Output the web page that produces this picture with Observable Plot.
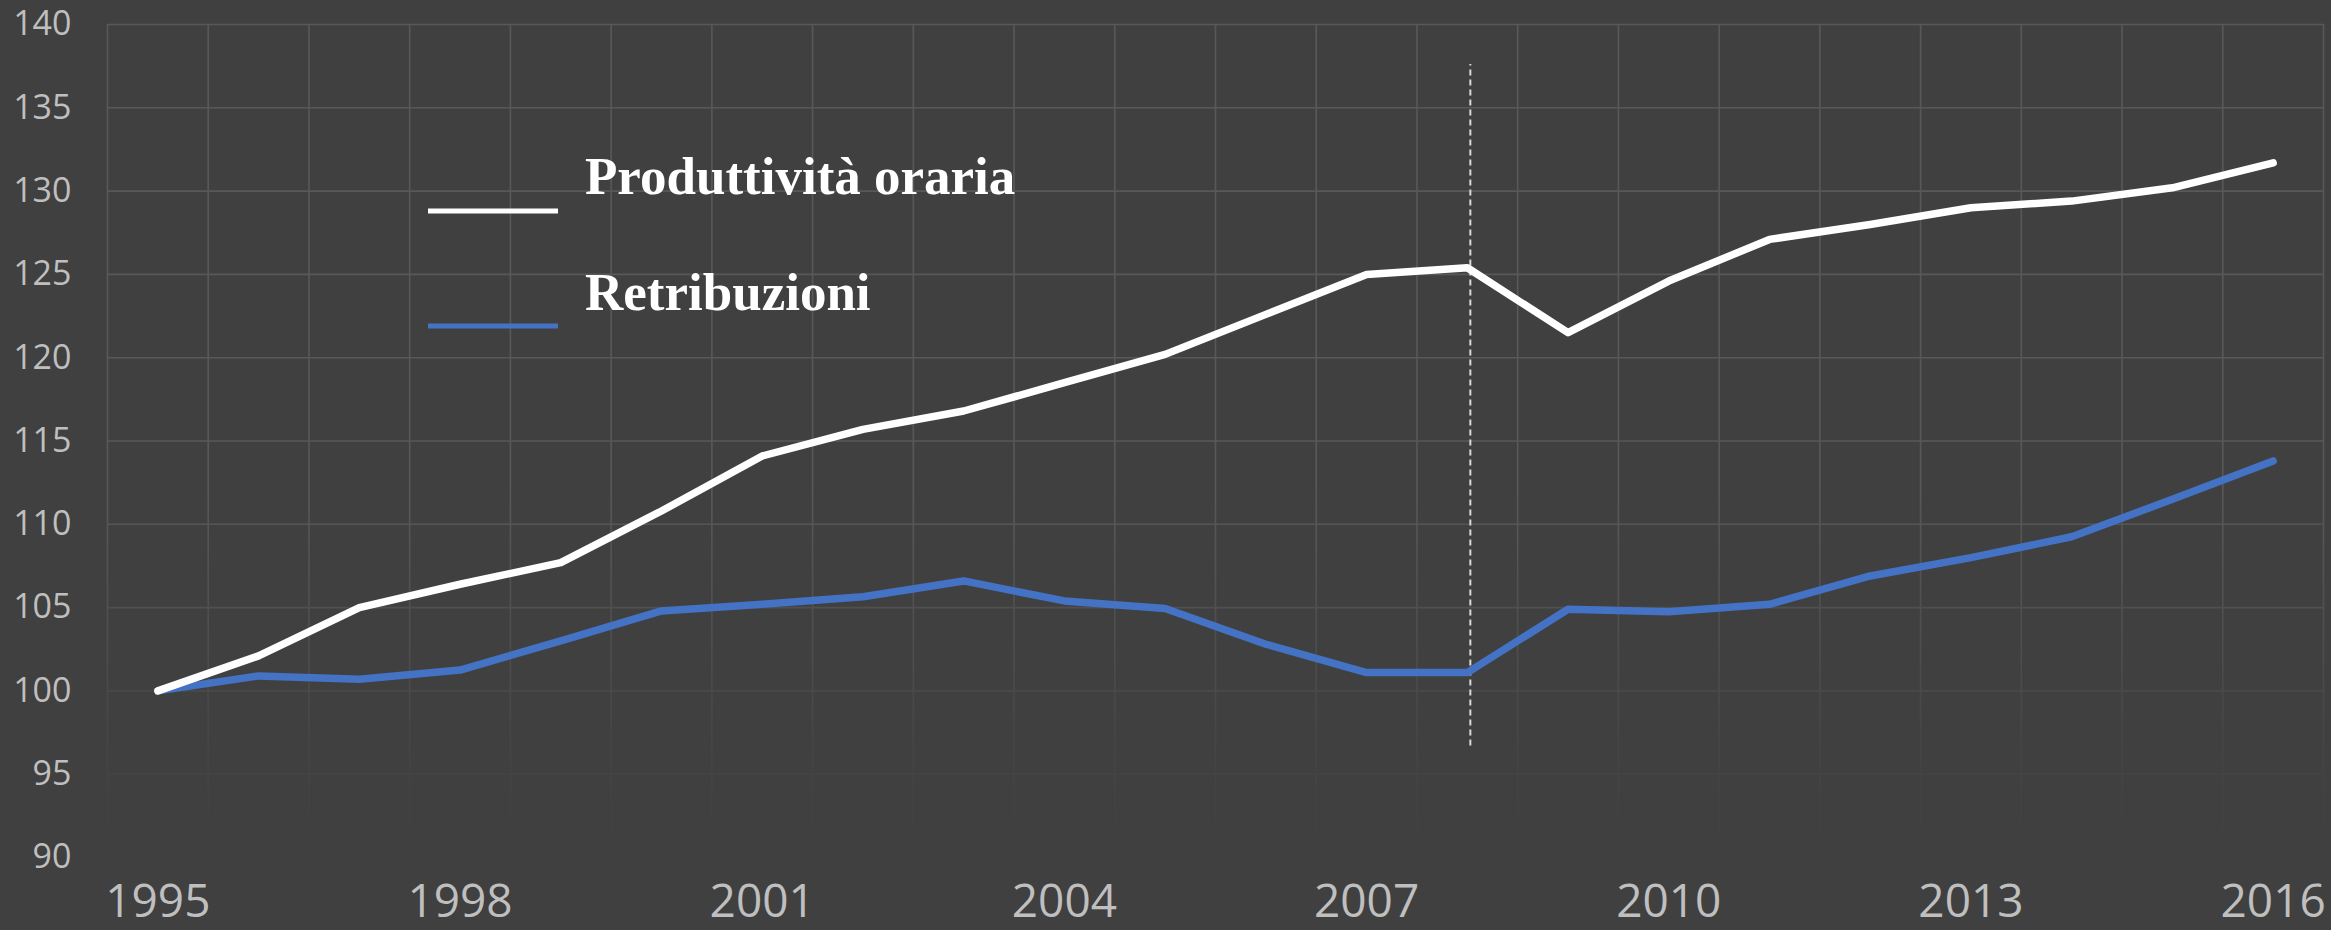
<!DOCTYPE html>
<html>
<head>
<meta charset="utf-8">
<script src="https://cdn.jsdelivr.net/npm/d3@7"></script>
<script src="https://cdn.jsdelivr.net/npm/@observablehq/plot@0.6"></script>
<style>
  html, body { margin: 0; padding: 0; background: #404040; }
  #wrap { position: relative; width: 2331px; height: 930px; overflow: hidden; }
  #legend { position: absolute; left: 0; top: 0; pointer-events: none; }
</style>
</head>
<body>
<div id="wrap"></div>
<script>
// ---- data ----
const years = [1995, 1996, 1997, 1998, 1999, 2000, 2001, 2002, 2003, 2004, 2005,
               2006, 2007, 2008, 2009, 2010, 2011, 2012, 2013, 2014, 2015, 2016];
const produttivita = [100.0, 102.1, 105.0, 106.4, 107.7, 110.8, 114.1, 115.7, 116.8, 118.5, 120.2,
                      122.6, 125.0, 125.4, 121.5, 124.6, 127.1, 128.0, 129.0, 129.4, 130.2, 131.7];
const retribuzioni = [100.0, 100.9, 100.7, 101.25, 103.0, 104.8, 105.2, 105.65, 106.6, 105.4, 104.95,
                      102.8, 101.1, 101.1, 104.9, 104.75, 105.2, 106.9, 108.0, 109.25, 111.5, 113.8];
const seriesNames = ["Produttività oraria", "Retribuzioni"];
const seriesColors = ["#ffffff", "#4472C4"];
const xTicks = [1995, 1998, 2001, 2004, 2007, 2010, 2013, 2016];
const yTicks = [90, 95, 100, 105, 110, 115, 120, 125, 130, 135, 140];
const divider = [{year: 2008.03, from: 96.7, to: 137.6}];

// ---- tables built from the arrays ----
const prodRows = years.map((y, i) => ({year: y, value: produttivita[i]}));
const retrRows = years.map((y, i) => ({year: y, value: retribuzioni[i]}));
const vGrid = years.map(y => y - 0.5).concat([years[years.length - 1] + 0.5]);

const svgns = "http://www.w3.org/2000/svg";
function gradientDefs(index, scales) {
  const defs = document.createElementNS(svgns, "defs");
  const lg = document.createElementNS(svgns, "linearGradient");
  lg.setAttribute("id", "gridFade");
  lg.setAttribute("gradientUnits", "userSpaceOnUse");
  lg.setAttribute("x1", 0); lg.setAttribute("x2", 0);
  const yTop = scales.y(140), yBot = scales.y(90);
  lg.setAttribute("y1", yTop); lg.setAttribute("y2", yBot);
  const off = v => (scales.y(v) - yTop) / (yBot - yTop);
  [[off(112), "#585858"], [off(103), "#4e4e4e"], [off(96), "#444444"], [1, "#404040"]]
    .forEach(([o, c]) => {
      const s = document.createElementNS(svgns, "stop");
      s.setAttribute("offset", o);
      s.setAttribute("stop-color", c);
      lg.appendChild(s);
    });
  defs.appendChild(lg);
  return defs;
}

const chart = Plot.plot({
  width: 2331,
  height: 930,
  marginLeft: 107,
  marginRight: 8,
  marginTop: 24,
  marginBottom: 73,
  style: {background: "#404040", color: "#bfbfbf", fontFamily: "'Open Sans', sans-serif", overflow: "visible"},
  x: {domain: [years[0] - 0.5, years[years.length - 1] + 0.5]},
  y: {domain: [yTicks[0], yTicks[yTicks.length - 1]]},
  marks: [
    gradientDefs,
    Plot.ruleY(yTicks, {stroke: "url(#gridFade)", strokeWidth: 1.6}),
    Plot.ruleX(vGrid, {stroke: "url(#gridFade)", strokeWidth: 1.6}),
    Plot.axisY({ticks: yTicks, tickSize: 0, tickPadding: 36, fontSize: 34, label: null, fill: "#bfbfbf"}),
    Plot.axisX({ticks: xTicks, tickFormat: d => String(d), tickSize: 0, tickPadding: 27, fontSize: 46, label: null, fill: "#bfbfbf"}),
    Plot.ruleX(divider, {x: "year", y1: "from", y2: "to", stroke: "#d9d9d9", strokeWidth: 2, strokeDasharray: "6,4"}),
    Plot.line(retrRows, {x: "year", y: "value", stroke: seriesColors[1], strokeWidth: 7.5, strokeLinecap: "round", strokeLinejoin: "round"}),
    Plot.line(prodRows, {x: "year", y: "value", stroke: seriesColors[0], strokeWidth: 7.5, strokeLinecap: "round", strokeLinejoin: "round"})
  ]
});

const wrap = document.getElementById("wrap");
wrap.appendChild(chart);

// ---- legend overlay ----
const leg = document.createElementNS(svgns, "svg");
leg.setAttribute("id", "legend");
leg.setAttribute("width", 2331);
leg.setAttribute("height", 930);
seriesNames.forEach((name, i) => {
  const yLine = 211 + i * 115;
  const ln = document.createElementNS(svgns, "line");
  ln.setAttribute("x1", 428); ln.setAttribute("x2", 558);
  ln.setAttribute("y1", yLine); ln.setAttribute("y2", yLine);
  ln.setAttribute("stroke", seriesColors[i]);
  ln.setAttribute("stroke-width", 5);
  leg.appendChild(ln);
  const t = document.createElementNS(svgns, "text");
  t.setAttribute("x", 585);
  t.setAttribute("y", 194 + i * 116);
  t.setAttribute("fill", "#ffffff");
  t.setAttribute("font-family", "'Liberation Serif', 'Times New Roman', serif");
  t.setAttribute("font-weight", "bold");
  t.setAttribute("font-size", 53);
  t.textContent = name;
  leg.appendChild(t);
});
wrap.appendChild(leg);
</script>
</body>
</html>
